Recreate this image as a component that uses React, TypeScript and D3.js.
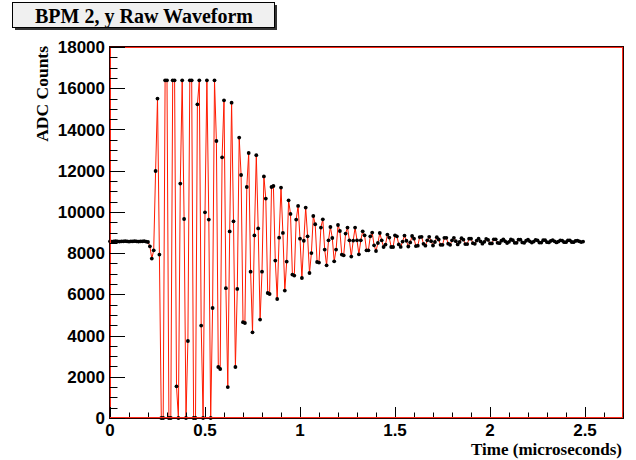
import React from "react";
import * as d3 from "d3";

// ---- data ----
const SAMPLE_STEP_US = 0.01; // sample spacing (microseconds)
const adcCounts: number[] = [
  8570, 8560, 8570, 8580, 8570, 8560, 8570, 8570, 8580, 8570,
  8560, 8570, 8570, 8580, 8570, 8560, 8570, 8570, 8580, 8560,
  8540, 8330, 7734, 8137, 11984, 15497, 7928, 0, 0, 16383,
  16383, 0, 0, 16383, 16383, 1538, 0, 11372, 16383, 9655,
  0, 3736, 16383, 16383, 0, 0, 15220, 16383, 4483, 0,
  9980, 16383, 9626, 0, 5337, 16383, 13439, 2474, 2377, 12649,
  15414, 6300, 1500, 9050, 15300, 9540, 2474, 6260, 13604, 11790,
  4650, 4610, 11208, 12857, 7100, 4158, 8860, 12750, 9200, 4774,
  7100, 11720, 10645, 6065, 6016, 11208, 11256, 7640, 5774, 8750,
  11178, 8980, 6181, 7590, 10562, 9900, 6957, 6909, 9626, 10287,
  8700, 6793, 8600, 10208, 8816, 7035, 8000, 9800, 9400, 7569,
  7540, 9240, 9641, 8170, 7409, 8620, 9267, 8733, 7603, 8170,
  9364, 9073, 7928, 7894, 8946, 9238, 8622, 7831, 8607, 9238,
  8622, 7943, 8622, 9058, 8864, 8137, 8137, 8816, 8995, 8379,
  8103, 8490, 8976, 8622, 8296, 8413, 8898, 8752, 8296, 8296,
  8864, 8816, 8420, 8300, 8560, 8850, 8600, 8320, 8520, 8830,
  8700, 8340, 8360, 8780, 8790, 8450, 8360, 8620, 8790, 8580,
  8370, 8540, 8770, 8660, 8400, 8400, 8740, 8740, 8460, 8400,
  8620, 8740, 8580, 8420, 8540, 8720, 8650, 8440, 8440, 8700,
  8700, 8480, 8450, 8610, 8700, 8570, 8460, 8550, 8690, 8640,
  8470, 8470, 8670, 8670, 8500, 8480, 8600, 8670, 8570, 8490,
  8550, 8660, 8630, 8500, 8500, 8650, 8650, 8520, 8500, 8600,
  8650, 8570, 8510, 8560, 8640, 8620, 8510, 8510, 8630, 8630,
  8530, 8520, 8590, 8630, 8570, 8520, 8560, 8620, 8610, 8530,
  8530, 8620, 8620, 8540, 8530, 8590, 8610, 8570, 8535, 8560,
];
const sampleTimes: number[] = adcCounts.map((_, i) => i * SAMPLE_STEP_US);

const xMajorTicks = [0, 0.5, 1, 1.5, 2, 2.5];
const xTickLabels = ["0", "0.5", "1", "1.5", "2", "2.5"];
const yMajorTicks = [0, 2000, 4000, 6000, 8000, 10000, 12000, 14000, 16000, 18000];
const yTickLabels = ["0", "2000", "4000", "6000", "8000", "10000", "12000", "14000", "16000", "18000"];

const titleText = "BPM 2, y Raw Waveform";
const xTitle = "Time (microseconds)";
const yTitle = "ADC Counts";

// ---- layout ----
const W = 636;
const H = 460;
const L = 110, R = 623, T = 47, B = 418;

export default function App() {
  const x = d3.scaleLinear().domain([0, 2.7]).range([L, R]);
  const y = d3.scaleLinear().domain([0, 18000]).range([B, T]);

  const pts = sampleTimes.map((t, i) => [t, adcCounts[i]] as [number, number]);
  const line = d3
    .line<[number, number]>()
    .x((d) => x(d[0]))
    .y((d) => y(d[1]));

  const xMinor = d3.range(0, 2.7001, 0.1).filter(
    (v) => !xMajorTicks.some((m) => Math.abs(m - v) < 1e-6)
  );
  const yMinor = d3.range(0, 18001, 500).filter((v) => v % 2000 !== 0);

  const sans = "'Liberation Sans', Arial, Helvetica, sans-serif";
  const serif = "'Liberation Serif', 'Times New Roman', serif";

  return (
    <svg
      width={W}
      height={H}
      viewBox={`0 0 ${W} ${H}`}
      style={{ position: "absolute", left: 0, top: 0, background: "#fff" }}
    >
      <rect x={0} y={0} width={W} height={H} fill="#fff" />

      {/* title box */}
      <rect x={15} y={5} width={262} height={25} fill="#333" />
      <rect x={12.5} y={2.5} width={262} height={25} fill="#f0f0f0" stroke="#000" strokeWidth={1} />
      <text
        x={144}
        y={23}
        textAnchor="middle"
        fontFamily={serif}
        fontWeight="bold"
        fontSize={20}
        fill="#000"
      >
        {titleText}
      </text>

      {/* data line */}
      <defs>
        <clipPath id="plotclip">
          <rect x={L} y={T} width={R - L} height={B - T + 1} />
        </clipPath>
      </defs>
      <g clipPath="url(#plotclip)">
        <path d={line(pts) || ""} fill="none" stroke="#ff1a00" strokeWidth={1} />
      </g>
      <g>
        {pts.map((d, i) => (
          <circle key={i} cx={x(d[0])} cy={y(d[1])} r={1.9} fill="#000" />
        ))}
      </g>

      {/* frame */}
      <rect x={L - 0.5} y={T - 0.5} width={R - L + 1} height={B - T + 1} fill="none" stroke="#2a0000" strokeWidth={1} />
      <rect x={L + 0.5} y={T + 0.5} width={R - L - 1} height={B - T - 1} fill="none" stroke="#ff2a1a" strokeWidth={1} />

      {/* ticks */}
      <g stroke="#000" strokeWidth={1}>
        {yMajorTicks.map((v) => (
          <line key={"ym" + v} x1={L} x2={L + 15} y1={Math.round(y(v)) + 0.5} y2={Math.round(y(v)) + 0.5} />
        ))}
        {yMinor.map((v) => (
          <line key={"yn" + v} x1={L} x2={L + 7.5} y1={Math.round(y(v)) + 0.5} y2={Math.round(y(v)) + 0.5} />
        ))}
        {xMajorTicks.map((v) => (
          <line key={"xm" + v} x1={Math.round(x(v)) + 0.5} x2={Math.round(x(v)) + 0.5} y1={B} y2={B - 11} />
        ))}
        {xMinor.map((v) => (
          <line key={"xn" + v} x1={Math.round(x(v)) + 0.5} x2={Math.round(x(v)) + 0.5} y1={B} y2={B - 5.5} />
        ))}
      </g>
      <line x1={L} x2={R} y1={B - 0.5} y2={B - 0.5} stroke="#ff2a1a" strokeWidth={1} />

      {/* y labels */}
      {yMajorTicks.map((v, i) => (
        <text
          key={"yl" + v}
          x={105}
          y={y(v)}
          dy="0.36em"
          textAnchor="end"
          fontFamily={sans}
          fontWeight="bold"
          fontSize={17}
          fill="#000"
        >
          {yTickLabels[i]}
        </text>
      ))}
      {/* x labels */}
      {xMajorTicks.map((v, i) => (
        <text
          key={"xl" + v}
          x={x(v)}
          y={436}
          textAnchor="middle"
          fontFamily={sans}
          fontWeight="bold"
          fontSize={17}
          fill="#000"
        >
          {xTickLabels[i]}
        </text>
      ))}

      {/* axis titles */}
      <text
        x={R - 1}
        y={455}
        textAnchor="end"
        fontFamily={serif}
        fontWeight="bold"
        fontSize={17}
        fill="#000"
      >
        {xTitle}
      </text>
      <text
        transform={`translate(48,${T - 1}) rotate(-90)`}
        textAnchor="end"
        fontFamily={serif}
        fontWeight="bold"
        fontSize={17.5}
        fill="#000"
      >
        {yTitle}
      </text>
    </svg>
  );
}
